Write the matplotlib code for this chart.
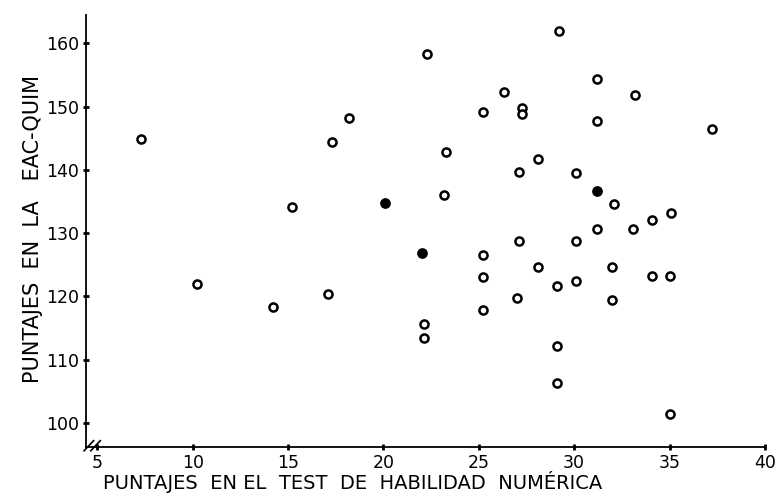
import matplotlib
matplotlib.use("Agg")
import matplotlib.pyplot as plt

# open circles
open_x = [7.3, 10.2, 14.2, 15.2, 17.1, 17.3, 18.2, 22.1, 22.1, 22.3, 23.3, 23.2,
          25.2, 25.2, 25.2, 25.2, 26.3, 27.25, 27.25, 27.1, 27.1, 27.0, 28.1, 28.1,
          29.2, 29.1, 29.1, 29.1, 30.1, 30.1, 30.1, 31.2, 31.2, 31.2, 32.1, 32.0,
          32.0, 33.2, 33.1, 34.1, 34.1, 35.1, 35.05, 35.0, 37.25]
open_y = [144.9, 122.0, 118.4, 134.1, 120.4, 144.4, 148.2, 115.7, 113.5, 158.3, 142.8, 136.1,
          149.1, 126.5, 123.0, 117.8, 152.4, 149.8, 148.9, 139.7, 128.8, 119.8, 141.7, 124.6,
          162.0, 121.6, 112.1, 106.3, 139.5, 128.7, 122.4, 154.3, 147.7, 130.6, 134.6, 124.6,
          119.5, 151.8, 130.6, 132.1, 123.2, 133.2, 123.2, 101.4, 146.4]
# filled circles
filled_x = [20.1, 22.0, 31.2]
filled_y = [134.8, 126.8, 136.7]

x_ticks = [5, 10, 15, 20, 25, 30, 35, 40]
y_ticks = [100, 110, 120, 130, 140, 150, 160]

fig = plt.figure(figsize=(7.78, 4.99), dpi=100)
ax = fig.add_axes([0.1105, 0.1042, 0.8775, 0.8658])
ax.set_xlim(4.4, 40.2)
ax.set_ylim(96.2, 164.5)

ax.scatter(open_x, open_y, s=34, facecolors="white", edgecolors="black", linewidths=1.8, zorder=3)
ax.scatter(filled_x, filled_y, s=45, facecolors="black", edgecolors="black", linewidths=1.0, zorder=3)

for s in ["top", "right"]:
    ax.spines[s].set_visible(False)
for s in ["left", "bottom"]:
    ax.spines[s].set_linewidth(1.3)
ax.spines["bottom"].set_bounds(4.4, 40)

ax.set_xticks(x_ticks)
ax.set_yticks(y_ticks)
ax.tick_params(axis="both", direction="inout", length=4, width=2, labelsize=12.5, colors="black", pad=3)
ax.set_xlabel("PUNTAJES  EN EL  TEST  DE  HABILIDAD  NUMÉRICA", fontsize=14, labelpad=-1, x=0.39)
ax.set_ylabel("PUNTAJES  EN  LA   EAC-QUIM", fontsize=15, labelpad=2, y=0.505)

# axis break marks near origin
for dx in (0.0, 0.35):
    ax.plot([4.3 + dx, 4.8 + dx], [95.6, 97.2], color="black", lw=1.2, clip_on=False)

fig.savefig("out.png", dpi=100, facecolor="white")
